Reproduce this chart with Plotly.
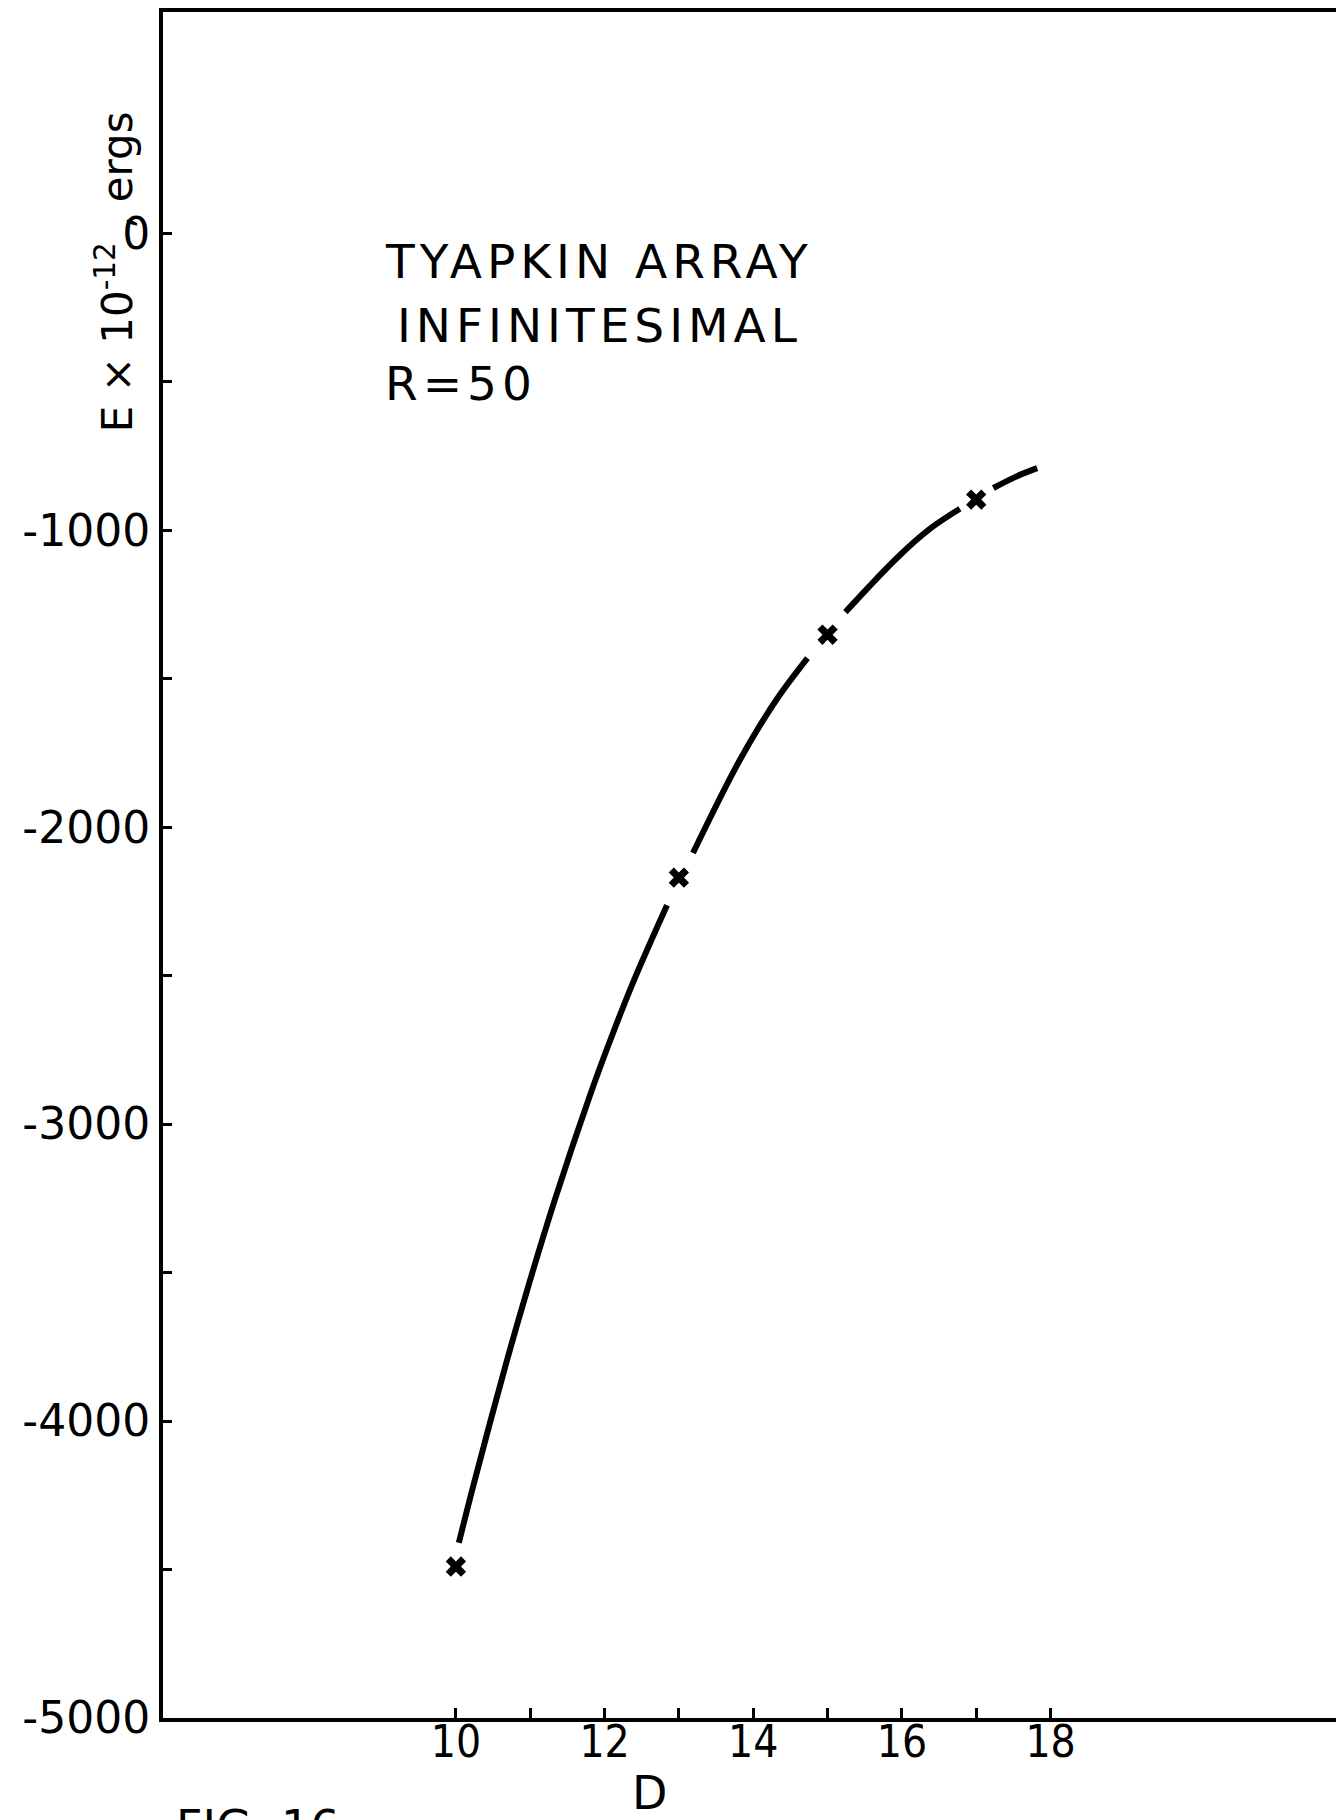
import plotly.graph_objects as go

# Computed points (D, E x 10^-12 ergs)
point_d = [10, 13, 15, 17]
point_e = [-4490, -2170, -1352, -897]

# Hand-faired curve through the points, broken around each marker (None = gap)
curve_d = [10.04, 10.23, 10.68, 10.96, 11.33, 11.80, 12.07, 12.38, 12.84, None,
           13.19, 13.82, 14.31, 14.73, None,
           15.24, 15.94, 16.38, 16.78, None,
           17.23, 17.55, 17.82]
curve_e = [-4410, -4222, -3802, -3558, -3256, -2906, -2722, -2525, -2263, None,
           -2087, -1774, -1572, -1431, None,
           -1276, -1092, -995, -928, None,
           -858, -818, -791]

x_ticks = [10, 11, 12, 13, 14, 15, 16, 17, 18]
x_tick_text = ["10", "", "12", "", "14", "", "16", "", "18"]
y_ticks = [0, -500, -1000, -1500, -2000, -2500, -3000, -3500, -4000, -4500, -5000]
y_tick_text = ["0", "", "-1000", "", "-2000", "", "-3000", "", "-4000", "", "-5000"]

title_lines = ["TYAPKIN ARRAY", "INFINITESIMAL", "R=50"]

INK = "black"
FONT = "DejaVu Sans"

fig = go.Figure()
fig.add_trace(go.Scatter(
    x=curve_d, y=curve_e, mode="lines",
    line=dict(color=INK, width=6, shape="spline", smoothing=1.0),
    connectgaps=False, hoverinfo="skip", showlegend=False,
))
fig.add_trace(go.Scatter(
    x=point_d, y=point_e, mode="markers",
    marker=dict(symbol="x", size=18, color=INK, line=dict(width=0)),
    showlegend=False,
))

# Legend block inside the plot
for text, d, e in zip(title_lines, [9.02, 9.18, 9.02], [-94, -310, -505]):
    fig.add_annotation(x=d, y=e, xref="x", yref="y", text=text, showarrow=False,
                       xanchor="left", yanchor="middle", align="left",
                       font=dict(family=FONT, size=47, color=INK))

# Axis titles
fig.add_annotation(x=-0.041, y=0.848, xref="paper", yref="paper",
                   text="E × 10<sup>-12</sup> , ergs", textangle=-90,
                   showarrow=False, xanchor="center", yanchor="middle",
                   font=dict(family=FONT, size=42, color=INK))
fig.add_annotation(x=0.415, y=-0.044, xref="paper", yref="paper", text="D",
                   showarrow=False, xanchor="center", yanchor="middle",
                   font=dict(family=FONT, size=46, color=INK))
fig.add_annotation(x=0.0094, y=-0.047, xref="paper", yref="paper", text="FIG. 16",
                   showarrow=False, xanchor="left", yanchor="top",
                   font=dict(family=FONT, size=46, color=INK))

fig.update_xaxes(
    range=[6.06, 21.84], showgrid=False, zeroline=False,
    showline=True, linewidth=4, linecolor=INK, mirror=True,
    ticks="inside", ticklen=10, tickwidth=3, tickcolor=INK,
    tickvals=x_ticks, ticktext=x_tick_text,
    tickfont=dict(family="DejaVu Sans Condensed, DejaVu Sans", size=44, color=INK),
    ticklabelstandoff=-18,
)
fig.update_yaxes(
    range=[-5000, 745], showgrid=False, zeroline=False,
    showline=True, linewidth=4, linecolor=INK, mirror=False,
    ticks="inside", ticklen=9, tickwidth=3, tickcolor=INK,
    tickvals=y_ticks, ticktext=y_tick_text,
    tickfont=dict(family=FONT, size=44, color=INK),
)
fig.update_layout(
    width=1336, height=1820,
    margin=dict(l=163, r=0, t=12, b=102),
    paper_bgcolor="white", plot_bgcolor="white",
    showlegend=False,
)

# Hand-lettered look: spaced capitals in the legend block
post = """
document.querySelectorAll('.annotation-text').forEach(function (t) {
  if (/TYAPKIN|INFINITESIMAL|R=50/.test(t.textContent)) { t.style.letterSpacing = '5px'; }
});
"""

fig.write_html("out.html", post_script=post)
